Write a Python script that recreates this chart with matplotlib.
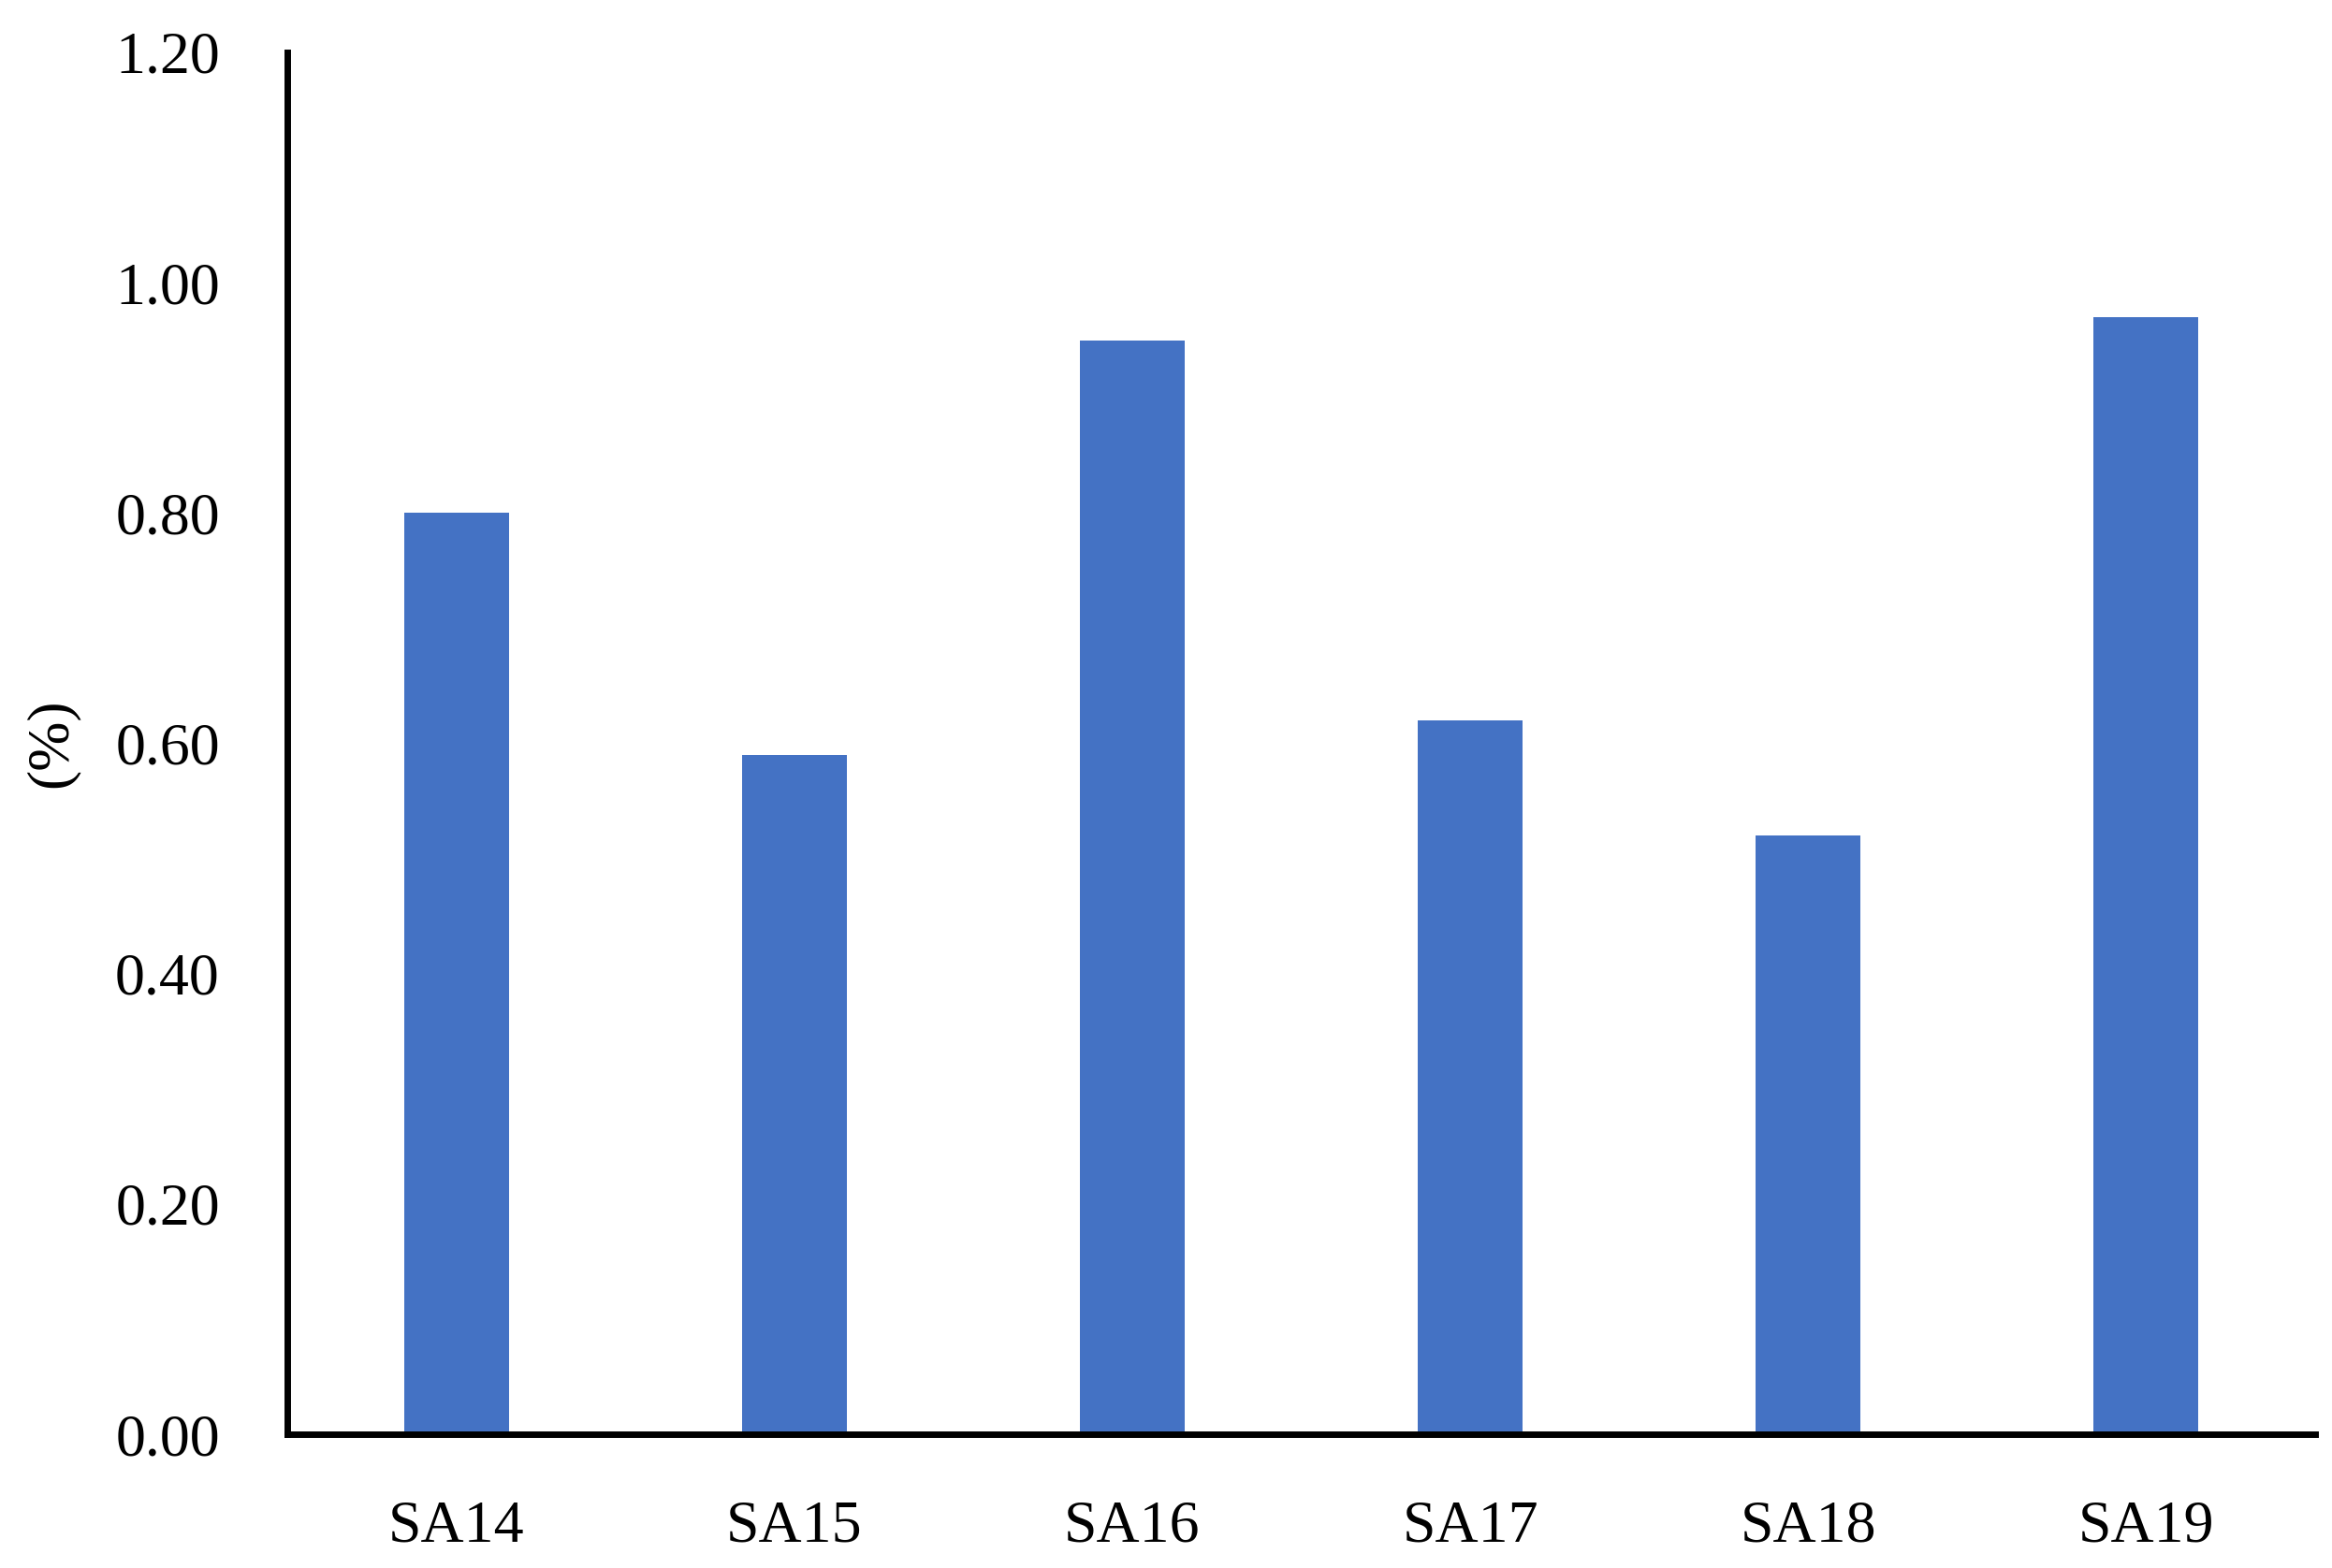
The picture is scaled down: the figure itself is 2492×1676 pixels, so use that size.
import matplotlib
matplotlib.use("Agg")
import matplotlib.pyplot as plt

categories = ["SA14", "SA15", "SA16", "SA17", "SA18", "SA19"]
values = [0.80, 0.59, 0.95, 0.62, 0.52, 0.97]
yticks = [0.0, 0.2, 0.4, 0.6, 0.8, 1.0, 1.2]

plt.rcParams['font.family'] = ['Liberation Serif', 'DejaVu Serif']

fig = plt.figure(figsize=(24.92, 16.76), dpi=100)
ax = fig.add_axes([307/2492, 1 - 1533/1676, (2474-307)/2492, (1533-56)/1676])

x = list(range(len(categories)))
ax.bar(x, values, width=0.31, color="#4472C4")
ax.set_xlim(-0.5, len(categories) - 0.5)
ax.set_ylim(0, 1.2)
ax.set_xticks(x)
ax.set_xticklabels(categories, fontsize=46)
ax.set_yticks(yticks)
ax.set_yticklabels([f"{v:.2f}" for v in yticks], fontsize=46)
ax.tick_params(axis='both', length=0)
ax.tick_params(axis='y', pad=52)
ax.tick_params(axis='x', pad=51)
for s in ["top", "right"]:
    ax.spines[s].set_visible(False)
for s in ["left", "bottom"]:
    ax.spines[s].set_linewidth(5)
ax.set_ylabel("(%)", fontsize=46)
ax.yaxis.set_label_coords(-0.1025, 0.5)

fig.savefig("out.png", dpi=100)
